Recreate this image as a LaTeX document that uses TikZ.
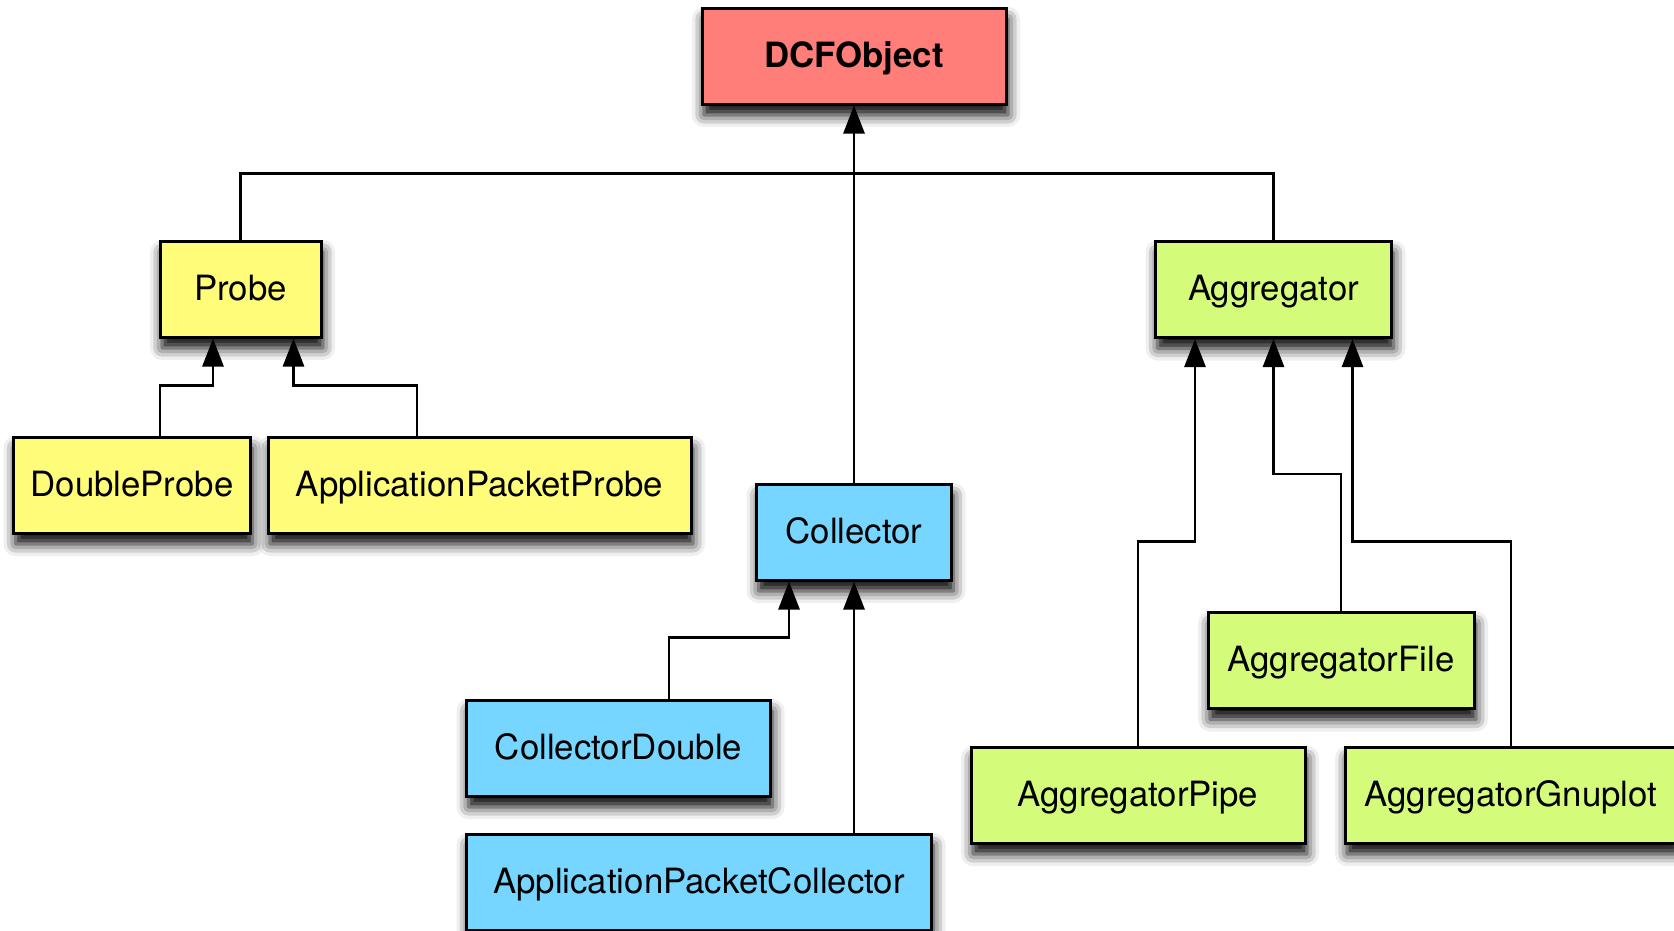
\documentclass[tikz,border=0pt]{standalone}
\usepackage{fontspec}
\setmainfont{TeX Gyre Heros}
\usetikzlibrary{arrows.meta,shadows.blur}
\definecolor{salmon}{HTML}{FF7E79}
\definecolor{banana}{HTML}{FFFC79}
\definecolor{sky}{HTML}{76D6FF}
\definecolor{honeydew}{HTML}{D4FB79}
\tikzset{
  box/.style={draw=black, line width=3pt, rectangle, minimum height=96pt,
    inner sep=0pt, text height=24pt, text depth=2pt,
    font=\fontsize{34.8}{40}\selectfont,
    blur shadow={shadow xshift=2pt, shadow yshift=-11pt, shadow blur radius=12pt, shadow opacity=100}},
  conn/.style={draw=black, line width=2.8pt},
  inh/.style={conn, -{Triangle[width=21pt,length=28pt]}},
}
\begin{document}
\begin{tikzpicture}[x=1pt,y=-1pt]
\useasboundingbox (0,0) rectangle (1674,930);
\clip (0,0) rectangle (1674,930);
% nodes
\node[box, fill=salmon, minimum width=304pt, font=\fontsize{34.8}{40}\selectfont\bfseries] (dcf) at (854,56) {DCFObject};
\node[box, fill=banana, minimum width=161pt] (probe) at (240.5,289) {Probe};
\node[box, fill=banana, minimum width=237pt] (dp) at (132,485) {DoubleProbe};
\node[box, fill=banana, minimum width=423pt] (app) at (479.5,485) {ApplicationPacketProbe};
\node[box, fill=sky, minimum width=195pt] (coll) at (854,532) {Collector};
\node[box, fill=sky, minimum width=304pt] (cd) at (618.5,748) {CollectorDouble};
\node[box, fill=sky, minimum width=465pt] (apc) at (699,882) {ApplicationPacketCollector};
\node[box, fill=honeydew, minimum width=236pt] (agg) at (1273.5,289.5) {Aggregator};
\node[box, fill=honeydew, minimum width=266pt] (af) at (1341,660.5) {AggregatorFile};
\node[box, fill=honeydew, minimum width=334pt] (ap) at (1138,795) {AggregatorPipe};
\node[box, fill=honeydew, minimum width=332pt] (ag) at (1511,795) {AggregatorGnuplot};
% connectors
\draw[conn] (probe.north) |- ([yshift=-68pt]dcf.south) -| (agg.north);
\draw[inh] (coll.north) -- (dcf.south);
\draw[inh] ([xshift=28pt]dp.north) -- ++(0,-50) -| ([xshift=-27.5pt]probe.south);
\draw[inh] ([xshift=-62.5pt]app.north) -- ++(0,-50) -| ([xshift=53pt]probe.south);
\draw[inh] ([xshift=50.5pt]cd.north) -- ++(0,-61) -| ([xshift=-65pt]coll.south);
\draw[inh] (coll.south |- apc.north) -- (coll.south);
\draw[inh] (ap.north) -- ++(0,-204) -| ([xshift=-78.5pt]agg.south);
\draw[inh] (af.north) -- ++(0,-137) -| (agg.south);
\draw[inh] (ag.north) -- ++(0,-204) -| ([xshift=79pt]agg.south);
\end{tikzpicture}
\end{document}
